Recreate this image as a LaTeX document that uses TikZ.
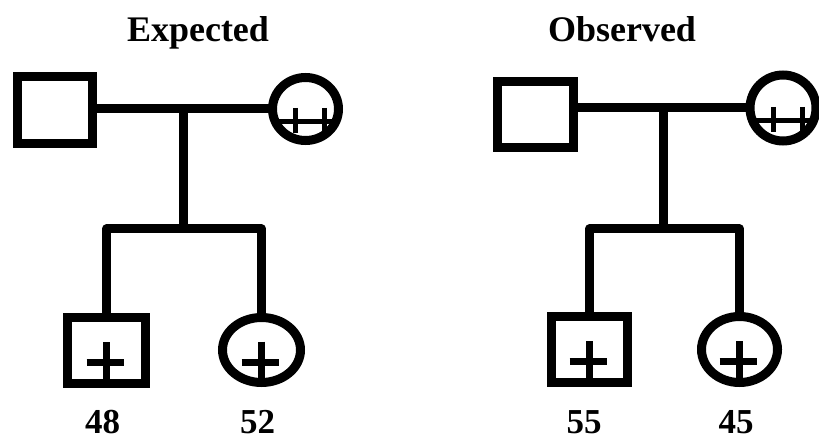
\documentclass[tikz,border=0pt]{standalone}
\usepackage{fontspec}
\setmainfont{Liberation Serif}
\usetikzlibrary{shapes.geometric,calc}

\tikzset{
  male/.style={draw, rectangle, line width=9pt, outer sep=0pt, inner sep=0pt},
  female/.style={draw, ellipse, line width=9pt, outer sep=0pt, inner sep=0pt},
  link/.style={line width=9pt, line join=round},
  plusline/.style={line width=7pt},
  alleleline/.style={line width=5pt},
  title/.style={anchor=base, inner sep=0pt, font=\bfseries\fontsize{36}{40}\selectfont},
  count/.style={anchor=base, inner sep=0pt, font=\bfseries\fontsize{35}{38}\selectfont},
}

% single "+" inside a child symbol
\newcommand{\childplus}[1]{%
  \draw[plusline] ($(#1.center)+(-20,12)$) -- ($(#1.center)+(17,12)$);
  \draw[plusline] ($(#1.center)+(0,-8.5)$) -- (#1.south);
}
% "++" in the lower half of the mother symbol
\newcommand{\motherplus}[1]{%
  \draw[alleleline] ($(#1.center)+(-30,13)$) -- ($(#1.center)+(30,13)$);
  \draw[alleleline] ($(#1.center)+(-10,-1)$) -- ($(#1.center)+(-10,24)$);
  \draw[alleleline] ($(#1.center)+(19,-1)$) -- ($(#1.center)+(19,24)$);
}

\begin{document}
\begin{tikzpicture}[x=1pt, y=-1pt]
  \fill[white] (0,0) rectangle (819,438);
  \useasboundingbox (0,0) rectangle (819,438);

  % ---------- Expected ----------
  \node[title] (tE) at (198,42) {Expected};
  \node[male, minimum width=75pt, minimum height=67pt] (fL) at (55,110) {};
  \node[female, minimum width=66pt, minimum height=63pt] (mL) at (305.5,109) {};
  \node[male, minimum width=78pt, minimum height=66pt] (sL) at (106.5,350.5) {};
  \node[female, minimum width=78pt, minimum height=65pt] (dL) at (261.5,350) {};
  \coordinate (jL) at (183,109);
  \coordinate (kL) at (183,229);

  \draw[link] (fL.east |- mL.west) -- (mL.west);
  \draw[link] (jL) -- (kL);
  \draw[link] (sL.north) |- (kL) -| (dL.north);

  \motherplus{mL}
  \childplus{sL}
  \childplus{dL}

  \node[count] (nSL) at (102.5,433) {48};
  \node[count] (nDL) at (257.5,433) {52};

  % ---------- Observed ----------
  \node[title] (tO) at (622,42) {Observed};
  \node[male, minimum width=76pt, minimum height=66pt] (fR) at (535.5,114.5) {};
  \node[female, minimum width=66pt, minimum height=66pt] (mR) at (783,108) {};
  \node[male, minimum width=76pt, minimum height=66pt] (sR) at (589.5,349.5) {};
  \node[female, minimum width=76pt, minimum height=66pt] (dR) at (739.5,349.5) {};
  \coordinate (jR) at (663,108);
  \coordinate (kR) at (663,229);

  \draw[link] (fR.east |- mR.west) -- (mR.west);
  \draw[link] (jR) -- (kR);
  \draw[link] (sR.north) |- (kR) -| (dR.north);

  \motherplus{mR}
  \childplus{sR}
  \childplus{dR}

  \node[count] (nSR) at (584,433) {55};
  \node[count] (nDR) at (736,433) {45};
\end{tikzpicture}
\end{document}
